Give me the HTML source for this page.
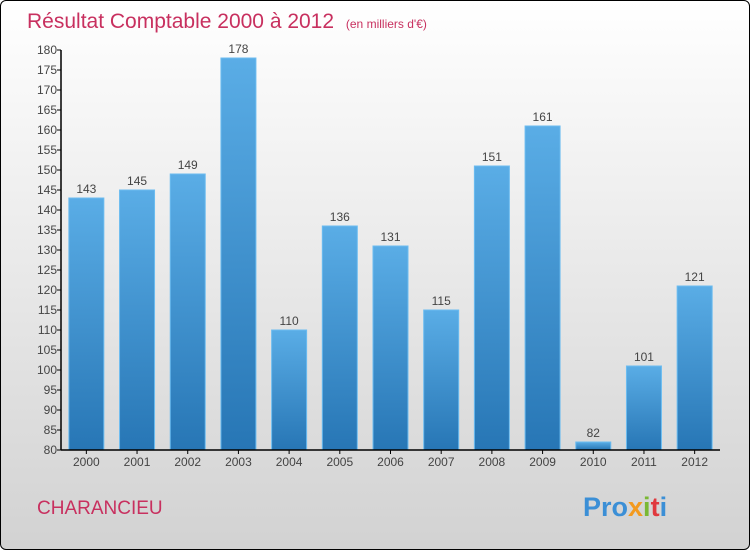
<!DOCTYPE html>
<html><head><meta charset="utf-8"><style>
body{margin:0;width:750px;height:550px;overflow:hidden;font-family:"Liberation Sans",sans-serif}
#frame{position:absolute;left:0;top:0;width:748px;height:548px;border:1px solid #000;border-radius:6px;background:linear-gradient(#ffffff,#d2d2d2)}
</style></head><body>
<div id="frame"></div>
<svg width="750" height="550" style="position:absolute;left:0;top:0" id="chart">
<defs><linearGradient id="bg" x1="0" y1="0" x2="0" y2="1"><stop offset="0" stop-color="#5aade6"/><stop offset="1" stop-color="#2776b5"/></linearGradient></defs>
<text x="27" y="28" font-size="21" fill="#c8305f">Résultat Comptable 2000 à 2012 <tspan font-size="12" dx="6">(en milliers d'€)</tspan></text>
<text x="37" y="514" font-size="19" fill="#c8305f">CHARANCIEU</text>
<text x="583" y="516" font-size="27" font-weight="bold"><tspan fill="#3b8fd6">Pro</tspan><tspan fill="#f39a1e">x</tspan><tspan fill="#7ab834">i</tspan><tspan fill="#e0393e">t</tspan><tspan fill="#3b8fd6">i</tspan></text>
<g id="plot"></g>
</svg>
<script>
const categories=["2000","2001","2002","2003","2004","2005","2006","2007","2008","2009","2010","2011","2012"];
const values=[143,145,149,178,110,136,131,115,151,161,82,101,121];
const ticks=[80,85,90,95,100,105,110,115,120,125,130,135,140,145,150,155,160,165,170,175,180];
const X0=61,X1=720,Y0=450,Y1=50,VMIN=80,VMAX=180;
const y=v=>Y0-(v-VMIN)/(VMAX-VMIN)*(Y0-Y1);
const bw=(X1-X0)/categories.length;
const x=i=>X0+bw*i+bw/2;
const g=document.getElementById('plot');const NS='http://www.w3.org/2000/svg';
function mk(t,a,txt){const e=document.createElementNS(NS,t);for(const k in a)e.setAttribute(k,a[k]);if(txt!=null)e.textContent=txt;g.appendChild(e);return e;}
values.forEach((v,i)=>{
 const r=mk('rect',{x:x(i)-17.5,y:y(v),width:35,height:Y0-y(v),fill:'url(#bg)',stroke:'#6cbcf0','stroke-width':1});
 
 
 const t=mk('text',{x:x(i),y:y(v)-5,'text-anchor':'middle','font-size':12,fill:'#444'},String(v));
 
 
 const c=mk('text',{x:x(i),y:Y0+16,'text-anchor':'middle','font-size':12,fill:'#444'},categories[i]);
 
 
 const tk=mk('line',{x1:x(i),x2:x(i),y1:Y0,y2:Y0+4,stroke:'#000'});
 
 
});
ticks.forEach(v=>{
 const l=mk('line',{x1:X0-4,x2:X0,y1:y(v),y2:y(v),stroke:'#000'});
 
 
 const t=mk('text',{x:X0-4,y:y(v)+4,'text-anchor':'end','font-size':12,fill:'#444'},String(v));
 
 
});
const ya=mk('line',{x1:X0,x2:X0,y1:Y1,y2:Y0,stroke:'#000','stroke-width':1.5});


const xa=mk('line',{x1:X0,x2:X1,y1:Y0,y2:Y0,stroke:'#000','stroke-width':1.5});


</script>
</body></html>
